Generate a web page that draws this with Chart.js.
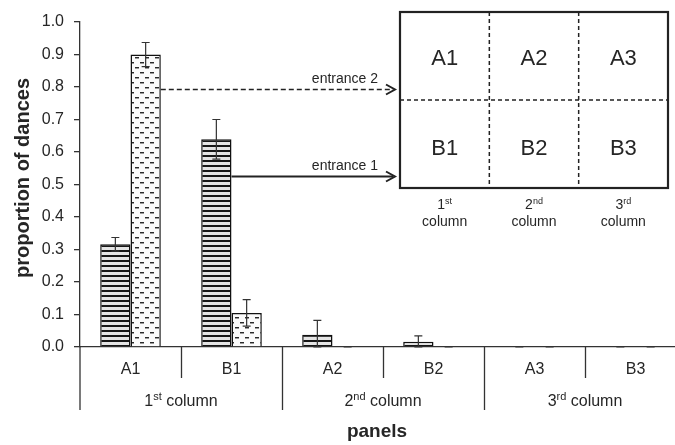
<!DOCTYPE html>
<html>
<head>
<meta charset="utf-8">
<script src="https://cdn.jsdelivr.net/npm/chart.js@4/dist/chart.umd.min.js"></script>
<style>
  html, body { margin: 0; padding: 0; background: #fff; overflow: hidden; }
  #wrap { width: 690px; height: 445px; position: relative; }
</style>
</head>
<body>
<div id="wrap"><canvas id="c" width="690" height="445"></canvas></div>
<script>
// Panels where dances were recorded
const categories = ['A1', 'B1', 'A2', 'B2', 'A3', 'B3'];

// Proportion of dances per panel and its error
const entrance1 = [0.316, 0.639, 0.038, 0.016, 0, 0];
const entrance1Err = [0.021, 0.061, 0.044, 0.018, 0, 0];
const entrance2 = [0.900, 0.105, 0, 0, 0, 0];
const entrance2Err = [0.037, 0.041, 0, 0, 0, 0];

// Panel columns (two panels per column)
const columnNums = ['1', '2', '3'];
const columnSups = ['st', 'nd', 'rd'];

// Y tick values
const yTicks = [0, 0.1, 0.2, 0.3, 0.4, 0.5, 0.6, 0.7, 0.8, 0.9, 1.0];

// Height at which each entrance arrow leaves its bar
const arrowLevels = [0.526, 0.795];
const arrowLabels = ['entrance 1', 'entrance 2'];

// Inset layout of the hive panels
const insetRows = [['A1', 'A2', 'A3'], ['B1', 'B2', 'B3']];

const FONT = '"Liberation Sans", Arial, Helvetica, sans-serif';
const TXT = '#262626';

const canvas = document.getElementById('c');
const ctx0 = canvas.getContext('2d');

function stripePattern() {
  const t = document.createElement('canvas');
  t.width = 4; t.height = 5;
  const g = t.getContext('2d');
  g.fillStyle = '#e4e4e4'; g.fillRect(0, 0, 4, 5);
  g.fillStyle = '#161616'; g.fillRect(0, 0, 4, 2);
  return ctx0.createPattern(t, 'repeat');
}
function dashPattern() {
  const t = document.createElement('canvas');
  t.width = 10; t.height = 10;
  const g = t.getContext('2d');
  g.fillStyle = '#fbfbfb'; g.fillRect(0, 0, 10, 10);
  g.fillStyle = '#2a2a2a';
  g.fillRect(0, 2, 4, 1);
  g.fillRect(5, 7, 4, 1);
  g.fillStyle = '#9a9a9a';
  g.fillRect(0, 3, 4, 1);
  g.fillRect(5, 8, 4, 1);
  return ctx0.createPattern(t, 'repeat');
}

function drawSupText(ctx, num, sup, rest, cx, baseline, size) {
  const supSize = Math.round(size * 0.66);
  ctx.font = size + 'px ' + FONT;
  const wNum = ctx.measureText(num).width;
  const wRest = ctx.measureText(rest).width;
  ctx.font = supSize + 'px ' + FONT;
  const wSup = ctx.measureText(sup).width;
  let x = cx - (wNum + wSup + wRest) / 2;
  ctx.textAlign = 'left';
  ctx.textBaseline = 'alphabetic';
  ctx.font = size + 'px ' + FONT;
  ctx.fillText(num, x, baseline); x += wNum;
  ctx.font = supSize + 'px ' + FONT;
  ctx.fillText(sup, x, baseline - size * 0.36); x += wSup;
  ctx.font = size + 'px ' + FONT;
  ctx.fillText(rest, x, baseline);
}

const errorBars = {
  id: 'errorBars',
  afterDatasetsDraw(chart) {
    const ctx = chart.ctx;
    const y = chart.scales.y;
    const errs = [entrance1Err, entrance2Err];
    ctx.save();
    ctx.strokeStyle = '#333';
    ctx.lineWidth = 1.2;
    chart.data.datasets.forEach((ds, d) => {
      const meta = chart.getDatasetMeta(d);
      meta.data.forEach((el, i) => {
        const v = ds.data[i], e = errs[d][i];
        const yt = y.getPixelForValue(v + e);
        const yb = y.getPixelForValue(Math.max(0, v - e));
        const x = el.x;
        ctx.beginPath();
        ctx.moveTo(x, yt); ctx.lineTo(x, yb);
        ctx.moveTo(x - 4, yt); ctx.lineTo(x + 4, yt);
        ctx.moveTo(x - 4, yb); ctx.lineTo(x + 4, yb);
        ctx.stroke();
      });
    });
    ctx.restore();
  }
};

const decorations = {
  id: 'decorations',
  afterDraw(chart) {
    const ctx = chart.ctx;
    const xs = chart.scales.x, ys = chart.scales.y;
    const area = chart.chartArea;
    const bottom = area.bottom;
    ctx.save();

    // axis extension and category separators
    ctx.strokeStyle = '#333';
    ctx.lineWidth = 1.3;
    ctx.beginPath();
    ctx.moveTo(area.left, bottom); ctx.lineTo(area.left, bottom + 63);
    for (let i = 1; i < categories.length; i++) {
      const bx = Math.round((xs.getPixelForValue(i - 1) + xs.getPixelForValue(i)) / 2) + 0.5;
      const len = (i % 2 === 0) ? 63 : 31;
      ctx.moveTo(bx, bottom); ctx.lineTo(bx, bottom + len);
    }
    ctx.stroke();

    // column group labels
    ctx.fillStyle = TXT;
    columnNums.forEach((n, g) => {
      const cx = (xs.getPixelForValue(2 * g) + xs.getPixelForValue(2 * g + 1)) / 2;
      drawSupText(ctx, n, columnSups[g], ' column', cx, 406, 16);
    });

    // axis titles
    ctx.font = 'bold 19px ' + FONT;
    ctx.textAlign = 'center';
    ctx.textBaseline = 'alphabetic';
    ctx.fillText('panels', 377, 437);
    ctx.save();
    ctx.translate(29, 178);
    ctx.rotate(-Math.PI / 2);
    ctx.font = 'bold 20px ' + FONT;
    ctx.fillText('proportion of dances', 0, 0);
    ctx.restore();

    // inset: panel layout
    const bx0 = 400, by0 = 12, bw = 268, bh = 176;
    ctx.strokeStyle = '#222';
    ctx.lineWidth = 1.5;
    ctx.setLineDash([4, 3]);
    ctx.beginPath();
    ctx.moveTo(bx0, by0 + bh / 2); ctx.lineTo(bx0 + bw, by0 + bh / 2);
    ctx.moveTo(bx0 + bw / 3, by0); ctx.lineTo(bx0 + bw / 3, by0 + bh);
    ctx.moveTo(bx0 + 2 * bw / 3, by0); ctx.lineTo(bx0 + 2 * bw / 3, by0 + bh);
    ctx.stroke();
    ctx.setLineDash([]);
    ctx.lineWidth = 2.2;
    ctx.strokeRect(bx0, by0, bw, bh);

    ctx.fillStyle = TXT;
    ctx.font = '22px ' + FONT;
    ctx.textAlign = 'center';
    insetRows.forEach((row, r) => {
      row.forEach((lab, c) => {
        const cx = bx0 + bw / 6 + c * bw / 3;
        ctx.fillText(lab, cx, r === 0 ? 65 : 155);
      });
    });
    columnNums.forEach((n, c) => {
      const cx = bx0 + bw / 6 + c * bw / 3;
      drawSupText(ctx, n, columnSups[c], '', cx, 209, 14);
      ctx.font = '14px ' + FONT;
      ctx.textAlign = 'center';
      ctx.fillText('column', cx, 226);
    });

    // entrance arrows
    const sources = [chart.getDatasetMeta(0).data[1], chart.getDatasetMeta(1).data[0]];
    const endX = bx0 - 5;
    sources.forEach((el, k) => {
      const yy = Math.round(ys.getPixelForValue(arrowLevels[k])) + 0.5;
      const sx = el.x + el.width / 2;
      ctx.strokeStyle = '#222';
      ctx.lineWidth = k === 0 ? 2 : 1.6;
      ctx.setLineDash(k === 0 ? [] : [5, 3]);
      ctx.beginPath();
      ctx.moveTo(sx, yy); ctx.lineTo(endX - 2, yy);
      ctx.stroke();
      ctx.setLineDash([]);
      ctx.lineWidth = 2;
      ctx.beginPath();
      ctx.moveTo(endX - 9, yy - 5); ctx.lineTo(endX, yy); ctx.lineTo(endX - 9, yy + 5);
      ctx.stroke();
      ctx.fillStyle = TXT;
      ctx.font = '14px ' + FONT;
      ctx.textAlign = 'right';
      ctx.textBaseline = 'alphabetic';
      ctx.fillText(arrowLabels[k], 378, yy - 7);
    });

    ctx.restore();
  }
};

new Chart(canvas, {
  type: 'bar',
  data: {
    labels: categories,
    datasets: [
      {
        label: arrowLabels[0],
        data: entrance1,
        backgroundColor: stripePattern(),
        borderColor: '#111',
        borderWidth: 1.5,
        borderSkipped: 'start'
      },
      {
        label: arrowLabels[1],
        data: entrance2,
        backgroundColor: dashPattern(),
        borderColor: '#111',
        borderWidth: 1.5,
        borderSkipped: 'start'
      }
    ]
  },
  options: {
    responsive: false,
    devicePixelRatio: 1,
    animation: false,
    categoryPercentage: 0.6,
    barPercentage: 1.0,
    layout: { padding: { left: 0, top: 22, right: 4, bottom: 0 } },
    plugins: { legend: { display: false }, tooltip: { enabled: false } },
    scales: {
      x: {
        type: 'category',
        grid: { drawOnChartArea: false, drawTicks: false },
        border: { color: '#333', width: 1.3 },
        ticks: { color: TXT, font: { family: FONT, size: 16 }, padding: 13, maxRotation: 0 },
        afterFit(scale) { scale.height = 98; }
      },
      y: {
        min: 0,
        max: 1,
        afterBuildTicks(scale) { scale.ticks = yTicks.map(v => ({ value: v })); },
        grid: { drawOnChartArea: false, tickLength: 6, color: '#333', lineWidth: 1.3 },
        border: { color: '#333', width: 1.3 },
        ticks: {
          color: TXT,
          font: { family: FONT, size: 16 },
          padding: 10,
          callback: v => Number(v).toFixed(1)
        },
        afterFit(scale) { scale.width = 80; }
      }
    }
  },
  plugins: [errorBars, decorations]
});
</script>
</body>
</html>
